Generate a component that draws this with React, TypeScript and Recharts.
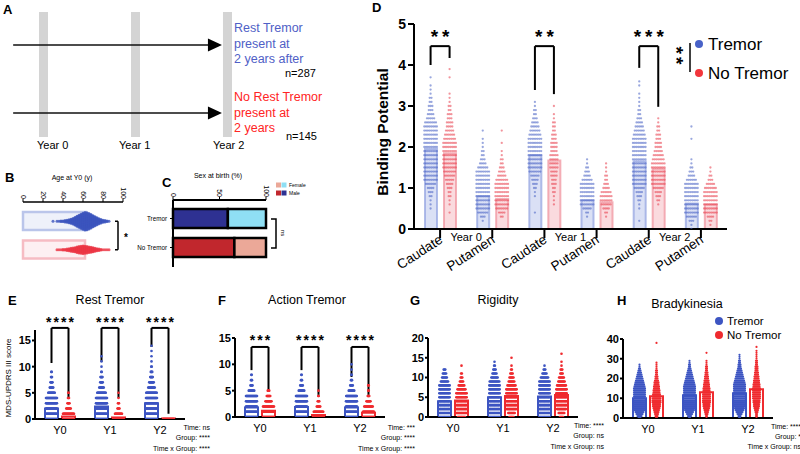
import React from 'react';
import {
  BarChart, Bar, XAxis, YAxis, ScatterChart, Scatter,
  ReferenceLine, ReferenceArea, ReferenceDot, Cell,
} from 'recharts';

const FONT = '"Liberation Sans", Arial, Helvetica, sans-serif';

// ---------------- Panel A (study design) ----------------
const years = [0, 1, 2];
const yearLabels = ['Year 0', 'Year 1', 'Year 2'];
const cohortN = [287, 145];
const cohortText = [
  ['Rest Tremor', 'present at', '2 years after'],
  ['No Rest Tremor', 'present at', '2 years'],
];

// ---------------- Panel B (age at Y0) ----------------
const ageGroups = ['Tremor', 'No Tremor'];
const ageMeans = [63, 62];
const ageBinStart = [30, 34];
const ageBinStep = 2;
const ageCountsTremor = [1, 0, 1, 1, 2, 2, 3, 4, 5, 7, 9, 12, 15, 18, 21, 24, 26, 25, 23, 20, 17, 14, 11, 8, 6, 4, 3, 2, 1];
const ageCountsNoTremor = [1, 1, 1, 2, 2, 3, 4, 5, 6, 7, 9, 10, 11, 12, 11, 10, 9, 8, 7, 5, 4, 3, 2, 1, 1, 1, 1];

// ---------------- Panel C (sex at birth) ----------------
const sexGroups = ['Tremor', 'No Tremor'];
const malePct = [59, 66];
const femalePct = [41, 34];
const maleColors = ['#2e3192', '#c1272d'];
const femaleColors = ['#8fdff4', '#eba898'];

// ---------------- Panel D (binding potential) ----------------
const dRegions = ['Caudate', 'Putamen', 'Caudate', 'Putamen', 'Caudate', 'Putamen'];
const dYears = ['Year 0', 'Year 1', 'Year 2'];
const dTremorMeans = [1.95, 0.8, 1.8, 0.7, 1.65, 0.62];
const dNoTremorMeans = [1.85, 0.73, 1.67, 0.65, 1.47, 0.6];
const dBinStep = 0.1;
const dTremorStart = [0.5, 0.2, 0.4, 0.3, 0.2, 0.0];
const dTremorCounts = [
  [1, 1, 1, 2, 3, 4, 6, 8, 10, 12, 14, 15, 16, 16, 15, 15, 14, 13, 12, 10, 8, 7, 5, 4, 3, 3, 2, 2, 1, 1, 1, 0, 1],
  [1, 3, 6, 10, 15, 20, 24, 26, 24, 20, 15, 11, 8, 6, 4, 3, 2, 2, 1, 1, 1, 0, 1],
  [1, 0, 0, 0, 1, 1, 2, 3, 4, 5, 7, 9, 11, 12, 13, 12, 11, 9, 8, 7, 6, 5, 4, 3, 2, 2, 1, 1],
  [1, 2, 5, 9, 14, 18, 16, 12, 8, 6, 4, 3, 2, 1, 1],
  [1, 0, 0, 1, 1, 2, 3, 4, 6, 8, 10, 13, 15, 16, 16, 15, 14, 12, 10, 9, 8, 7, 6, 5, 4, 3, 2, 2, 1, 1, 1, 1, 0, 1, 1],
  [1, 1, 3, 6, 12, 20, 26, 28, 24, 18, 13, 9, 6, 4, 3, 2, 1, 1, 0, 0, 0, 0, 1, 0, 0, 1],
];
const dNoTremorStart = [0.4, 0.3, 0.6, 0.3, 0.6, 0.1];
const dNoTremorCounts = [
  [1, 0, 1, 1, 2, 2, 3, 4, 5, 6, 7, 8, 9, 9, 10, 9, 9, 8, 7, 6, 5, 4, 4, 3, 3, 2, 2, 1, 1, 1, 0, 0, 0, 1, 0, 1],
  [2, 4, 7, 10, 13, 14, 13, 11, 9, 7, 5, 4, 3, 2, 2, 1, 1, 0, 1, 0, 0, 1],
  [1, 1, 1, 2, 2, 3, 3, 4, 4, 5, 5, 5, 5, 4, 4, 4, 3, 3, 2, 2, 2, 1, 1, 0, 1],
  [1, 2, 4, 6, 7, 7, 6, 4, 3, 2, 2, 1, 1, 1],
  [1, 2, 3, 4, 6, 8, 9, 10, 10, 9, 8, 7, 6, 5, 4, 4, 3, 3, 2, 2, 1, 1],
  [1, 2, 4, 8, 12, 16, 17, 14, 10, 7, 5, 3, 2, 1, 1],
];
const dSig = ['**', '**', '***'];

// ---------------- Panels E-H (MDS-UPDRS III scores, counts per integer score) ----------------
const visits = ['Y0', 'Y1', 'Y2'];

const restMeansT = [2.0, 2.4, 3.0];
const restMeansN = [0.5, 0.3, 0.1];
const restCountsT = [
  [60, 75, 60, 35, 25, 14, 8, 5, 3, 2],
  [50, 65, 60, 40, 28, 18, 10, 6, 5, 2, 1, 1, 1],
  [40, 50, 55, 45, 35, 22, 14, 10, 6, 4, 2, 1, 1, 1, 1],
];
const restCountsN = [
  [100, 25, 10, 5, 3, 2],
  [120, 15, 5, 3, 1, 1],
  [145],
];
const restSig = ['****', '****', '****'];

const actionMeansT = [1.8, 1.9, 1.8];
const actionMeansN = [1.2, 0.4, 0.8];
const actionCountsT = [
  [70, 70, 60, 40, 25, 12, 5, 3, 2],
  [65, 72, 60, 42, 25, 12, 6, 3, 2],
  [72, 70, 60, 38, 22, 12, 6, 3, 2, 1, 1],
];
const actionCountsN = [
  [50, 45, 25, 13, 8, 4],
  [110, 20, 8, 4, 2, 1],
  [75, 35, 18, 9, 4, 2, 2],
];
const actionSig = ['***', '****', '****'];

const rigMeansT = [4.0, 5.0, 5.2];
const rigMeansN = [4.2, 5.3, 5.6];
const rigCountsT = [
  [20, 25, 35, 40, 40, 35, 30, 22, 15, 10, 7, 5, 3],
  [15, 20, 28, 35, 38, 38, 32, 26, 20, 13, 9, 6, 4, 2, 1],
  [14, 18, 26, 34, 38, 40, 35, 28, 20, 14, 10, 6, 3, 1],
];
const rigCountsN = [
  [10, 14, 18, 20, 20, 18, 15, 11, 8, 5, 3, 2, 0, 1],
  [6, 9, 13, 16, 18, 19, 17, 14, 11, 8, 6, 4, 2, 1, 0, 1],
  [5, 8, 12, 15, 17, 18, 17, 15, 12, 9, 7, 4, 3, 1, 1, 0, 1],
];

const bradMeansT = [10, 11.5, 12.5];
const bradMeansN = [11, 13, 14.5];
const bradCountsT = [
  [3, 5, 7, 9, 11, 13, 14, 15, 16, 16, 16, 15, 15, 14, 13, 12, 11, 10, 9, 8, 7, 6, 5, 4, 3, 2, 1, 1],
  [2, 4, 6, 8, 10, 12, 13, 14, 15, 15, 16, 16, 15, 15, 14, 13, 12, 11, 10, 9, 8, 7, 6, 5, 4, 3, 2, 2, 1, 1],
  [2, 3, 5, 7, 9, 10, 12, 13, 14, 14, 15, 15, 15, 15, 14, 14, 13, 12, 11, 10, 9, 8, 7, 6, 5, 4, 3, 3, 2, 2, 1, 1, 1],
];
const bradCountsN = [
  [2, 3, 4, 5, 6, 7, 8, 8, 9, 9, 9, 8, 8, 7, 7, 6, 6, 5, 5, 4, 3, 3, 2, 2, 2, 1, 1, 1, 1, 0, 0, 0, 0, 0, 0, 0, 0, 0, 1],
  [1, 2, 3, 4, 5, 6, 7, 7, 8, 8, 8, 8, 8, 8, 7, 7, 6, 6, 5, 5, 4, 4, 3, 3, 2, 2, 2, 1, 1, 1, 0, 0, 0, 1],
  [1, 2, 2, 3, 4, 5, 6, 6, 7, 7, 8, 8, 8, 8, 8, 8, 7, 7, 6, 6, 5, 5, 4, 4, 3, 3, 3, 2, 2, 2, 1, 1, 1, 1, 1, 0, 1],
];

// ---------------- helpers ----------------
type Row = [number, number];
const binRows = (start: number, step: number, counts: number[]): Row[] =>
  counts.map((c, i) => [Math.round((start + i * step) * 1000) / 1000, c]);
const intRows = (counts: number[]): Row[] => counts.map((c, i) => [i, c]);

function swarm(rows: Row[], center: number, upx: number, spacing: number, maxHalf: number) {
  const out: { x: number; y: number }[] = [];
  const maxPer = Math.floor((2 * maxHalf) / spacing) + 1;
  for (const [v, n] of rows) {
    const m = Math.min(n, maxPer);
    for (let k = 0; k < m; k++) {
      out.push({ x: center + (k - (m - 1) / 2) * spacing * upx, y: v });
    }
  }
  return out;
}

const dotShape = (fill: string, r: number) => (props: any) =>
  <circle cx={props.cx} cy={props.cy} r={r} fill={fill} />;

const starShape = (text: string, fs: number, ls: number) => (props: any) => (
  <text x={props.cx + ls / 2} y={props.cy + 0.52 * fs} textAnchor="middle" fontSize={fs}
    fontWeight={700} letterSpacing={ls} fill="#000">{text}</text>
);

const AX = { stroke: '#000', strokeWidth: 2 };

interface Bracket { cat: number; l: number; r: number; top: number; star: number; text: string }

interface PanelProps {
  box: [number, number, number, number];
  plot: [number, number, number, number];
  nCat: number;
  meansT: number[]; meansN: number[];
  rowsT: Row[][]; rowsN: Row[][];
  yDomain: [number, number]; yTicks: number[];
  yTickFont: number; yTickSize: number; yTickMargin: number;
  barSize: number; barGap: number;
  barT: { fill: string; stroke: string }; barN: { fill: string; stroke: string };
  barStrokeW: number;
  dotT: string; dotN: string; dotR: number; spacing: number; maxHalf: number;
  xTick: (p: any) => any; xTickSize: number; xTickLine: boolean;
  brackets?: Bracket[]; starFont?: number; starLS?: number;
}

function indices(n: number) {
  const a: number[] = [];
  for (let i = 0; i < n; i++) a.push(i);
  return a;
}

function SwarmPanel(p: PanelProps) {
  const [L, T, W, H] = p.box;
  const [pl, pr, pt, pb] = p.plot;
  const yAxisW = pl - L;
  const xAxisH = T + H - pb;
  const upx = p.nCat / (pr - pl);
  const off = ((p.barSize + p.barGap) / 2) * upx;
  const data = indices(p.nCat).map((i) => ({ idx: i, t: p.meansT[i], n: p.meansN[i] }));
  const ptsT = p.rowsT.flatMap((rows, i) => swarm(rows, i + 0.5 - off, upx, p.spacing, p.maxHalf));
  const ptsN = p.rowsN.flatMap((rows, i) => swarm(rows, i + 0.5 + off, upx, p.spacing, p.maxHalf));
  const margin2 = { top: pt - T, right: L + W - pr, left: pl - L, bottom: T + H - pb };
  return (
    <div style={{ position: 'absolute', left: L, top: T, width: W, height: H }}>
      <div style={{ position: 'absolute', left: 0, top: 0 }}>
        <BarChart width={W} height={H} data={data} barGap={p.barGap}
          margin={{ top: pt - T, right: L + W - pr, left: 0, bottom: 0 }}>
          <XAxis dataKey="idx" type="category" height={xAxisH} tick={p.xTick} tickSize={p.xTickSize}
            tickMargin={0} tickLine={p.xTickLine ? AX : false} axisLine={AX} interval={0} />
          <YAxis type="number" domain={p.yDomain} ticks={p.yTicks} width={yAxisW} interval={0}
            tick={{ fontSize: p.yTickFont, fontWeight: 700, fill: '#000' }} tickSize={p.yTickSize}
            tickMargin={p.yTickMargin} tickLine={AX} axisLine={AX} allowDataOverflow />
          <Bar dataKey="t" barSize={p.barSize} fill={p.barT.fill} stroke={p.barT.stroke}
            strokeWidth={p.barStrokeW} isAnimationActive={false} />
          <Bar dataKey="n" barSize={p.barSize} fill={p.barN.fill} stroke={p.barN.stroke}
            strokeWidth={p.barStrokeW} isAnimationActive={false} />
        </BarChart>
      </div>
      <div style={{ position: 'absolute', left: 0, top: 0 }}>
        <ScatterChart width={W} height={H} margin={margin2}>
          <XAxis type="number" dataKey="x" domain={[0, p.nCat]} hide allowDataOverflow />
          <YAxis type="number" dataKey="y" domain={p.yDomain} hide allowDataOverflow />
          <Scatter data={ptsT} shape={dotShape(p.dotT, p.dotR)} isAnimationActive={false} />
          <Scatter data={ptsN} shape={dotShape(p.dotN, p.dotR)} isAnimationActive={false} />
          {(p.brackets || []).flatMap((b, k) => {
            const lx = b.cat + 0.5 - off;
            const rx = b.cat + 0.5 + off;
            return [
              <ReferenceLine key={`a${k}`} ifOverflow="visible" stroke="#000" strokeWidth={2}
                segment={[{ x: lx, y: b.l }, { x: lx, y: b.top }]} />,
              <ReferenceLine key={`b${k}`} ifOverflow="visible" stroke="#000" strokeWidth={2}
                segment={[{ x: lx, y: b.top }, { x: rx, y: b.top }]} />,
              <ReferenceLine key={`c${k}`} ifOverflow="visible" stroke="#000" strokeWidth={2}
                segment={[{ x: rx, y: b.top }, { x: rx, y: b.r }]} />,
              <ReferenceDot key={`d${k}`} ifOverflow="visible" x={b.cat + 0.5} y={b.star}
                shape={starShape(b.text, p.starFont || 14, p.starLS || 1)} />,
            ];
          })}
        </ScatterChart>
      </div>
    </div>
  );
}

// ---------------- Panel A ----------------
const ArrowHead = (props: any) => {
  const { cx, cy } = props;
  return <polygon points={`${cx},${cy} ${cx - 14},${cy - 6.5} ${cx - 14},${cy + 6.5}`} fill="#000" />;
};

function PanelA() {
  const heads = cohortN.map((n, i) => ({ x: 1.94, y: i, n }));
  return (
    <div style={{ position: 'absolute', left: 0, top: 0 }}>
      <ScatterChart width={380} height={150} margin={{ top: 0, right: 0, left: 0, bottom: 0 }}>
        <XAxis type="number" dataKey="x" domain={[-0.473, 3.658]} hide allowDataOverflow />
        <YAxis type="number" dataKey="y" domain={[-0.662, 1.544]} hide reversed allowDataOverflow />
        {years.map((y) => (
          <ReferenceArea key={y} x1={y - 0.049} x2={y + 0.049} y1={-0.485} y2={1.353}
            fill="#d4d4d4" fillOpacity={1} stroke="none" ifOverflow="visible" />
        ))}
        {cohortN.map((n, i) => (
          <ReferenceLine key={n} segment={[{ x: -0.33, y: i }, { x: 1.85, y: i }]} stroke="#111"
            strokeWidth={1.6} ifOverflow="visible" />
        ))}
        <Scatter data={heads} shape={ArrowHead} isAnimationActive={false} />
      </ScatterChart>
    </div>
  );
}

// ---------------- Panel B ----------------
const BTick = (props: any) => {
  const { x, y, payload } = props;
  return (
    <text x={x} y={y} transform={`rotate(90 ${x} ${y})`} textAnchor="end" dominantBaseline="central"
      fontSize={7} fill="#000">{payload.value}</text>
  );
};

function PanelB() {
  const W = 140, H = 112;
  const data = ageGroups.map((g, i) => ({ g, mean: ageMeans[i] }));
  const upy = 2 / (66 - 9);
  const spacing = 0.7, maxHalf = 9;
  const maxPer = Math.floor((2 * maxHalf) / spacing) + 1;
  const counts = [ageCountsTremor, ageCountsNoTremor];
  const pts = counts.map((cs, gi) => {
    const out: { x: number; y: number }[] = [];
    cs.forEach((c, k) => {
      const age = ageBinStart[gi] + k * ageBinStep;
      const m = Math.min(c, maxPer);
      for (let j = 0; j < m; j++) out.push({ x: age, y: gi + 0.5 + (j - (m - 1) / 2) * spacing * upy });
    });
    return out;
  });
  const barFill = ['#eef1fa', '#fdf0f2'];
  const barStroke = ['#bac5ea', '#f6bcc3'];
  return (
    <div style={{ position: 'absolute', left: 0, top: 160, width: W, height: H }}>
      <div style={{ position: 'absolute', left: 0, top: 0 }}>
        <BarChart layout="vertical" width={W} height={H} data={data}
          margin={{ top: 10, right: 17, left: 23, bottom: 4 }}>
          <XAxis type="number" orientation="top" domain={[0, 100]} ticks={[0, 20, 40, 60, 80, 100]}
            height={32} tick={BTick} tickSize={3} tickMargin={0} interval={0}
            axisLine={{ stroke: '#000', strokeWidth: 1.5 }} tickLine={{ stroke: '#000', strokeWidth: 1 }} />
          <YAxis type="category" dataKey="g" width={0} tick={false} tickLine={false}
            axisLine={{ stroke: '#000', strokeWidth: 2 }} padding={{ top: 5, bottom: 4 }} />
          <Bar dataKey="mean" barSize={18} strokeWidth={2.5} isAnimationActive={false}>
            {data.map((d, i) => <Cell key={d.g} fill={barFill[i]} stroke={barStroke[i]} />)}
          </Bar>
        </BarChart>
      </div>
      <div style={{ position: 'absolute', left: 0, top: 0 }}>
        <ScatterChart width={W} height={H} margin={{ top: 42, right: 17, left: 23, bottom: 4 }}>
          <XAxis type="number" dataKey="x" domain={[0, 100]} hide allowDataOverflow />
          <YAxis type="number" dataKey="y" domain={[0, 2]} hide reversed allowDataOverflow
            padding={{ top: 5, bottom: 4 }} />
          <Scatter data={pts[0]} shape={dotShape('rgba(60,85,190,0.8)', 1.5)} isAnimationActive={false} />
          <Scatter data={pts[1]} shape={dotShape('rgba(236,55,70,0.8)', 1.5)} isAnimationActive={false} />
          <ReferenceLine ifOverflow="visible" stroke="#000" strokeWidth={1.5}
            segment={[{ x: 95, y: 0.5 }, { x: 95, y: 1.5 }]} />
          <ReferenceLine ifOverflow="visible" stroke="#000" strokeWidth={1.5}
            segment={[{ x: 92, y: 0.5 }, { x: 95, y: 0.5 }]} />
          <ReferenceLine ifOverflow="visible" stroke="#000" strokeWidth={1.5}
            segment={[{ x: 92, y: 1.5 }, { x: 95, y: 1.5 }]} />
          <ReferenceDot ifOverflow="visible" x={103} y={1.0} shape={starShape('*', 10, 0)} />
        </ScatterChart>
      </div>
    </div>
  );
}

// ---------------- Panel C ----------------
const CTick = (props: any) => {
  const { x, y, payload } = props;
  return (
    <text x={x} y={y} transform={`rotate(90 ${x} ${y})`} textAnchor="end" dominantBaseline="central"
      fontSize={7} fill="#000">{payload.value}</text>
  );
};
const CYTick = (props: any) => (
  <text x={props.x} y={props.y} textAnchor="end" dominantBaseline="central" fontSize={6.3}
    fill="#000">{props.payload.value}</text>
);

function PanelC() {
  const data = sexGroups.map((g, i) => ({ g, male: malePct[i], female: femalePct[i] }));
  return (
    <div style={{ position: 'absolute', left: 125, top: 163 }}>
      <BarChart layout="vertical" width={160} height={106} data={data}
        margin={{ top: 7, right: 19, left: 0, bottom: 2 }}>
        <XAxis type="number" orientation="top" domain={[0, 100]} ticks={[0, 50, 100]} height={30}
          tick={CTick} tickSize={3} tickMargin={0} interval={0}
          axisLine={{ stroke: '#000', strokeWidth: 2 }} tickLine={{ stroke: '#000', strokeWidth: 1 }} />
        <YAxis type="category" dataKey="g" width={48} tickSize={3} tickMargin={3} interval={0}
          tick={CYTick} axisLine={{ stroke: '#000', strokeWidth: 2 }}
          tickLine={{ stroke: '#000', strokeWidth: 1 }} padding={{ top: 4, bottom: 5 }} />
        <Bar dataKey="male" stackId="s" barSize={19} stroke="#000" strokeWidth={2.5} isAnimationActive={false}>
          {data.map((d, i) => <Cell key={d.g} fill={maleColors[i]} />)}
        </Bar>
        <Bar dataKey="female" stackId="s" barSize={19} stroke="#000" strokeWidth={2.5} isAnimationActive={false}>
          {data.map((d, i) => <Cell key={d.g} fill={femaleColors[i]} />)}
        </Bar>
      </BarChart>
    </div>
  );
}

// ---------------- Panel D ----------------
const dTick = (props: any) => {
  const { x, y, payload } = props;
  const i = Number(payload.value);
  return (
    <g>
      <text x={x + 3.5} y={y + 4} transform={`rotate(-33 ${x + 3.5} ${y + 4})`} textAnchor="end"
        fontSize={13.5} fill="#000">{dRegions[i]}</text>
      {i % 2 === 0 ? (
        <text x={x + 26} y={y - 1.5} textAnchor="middle" dominantBaseline="central" fontSize={11}
          fill="#000">{dYears[i / 2]}</text>
      ) : null}
    </g>
  );
};

const visitTick = (props: any) => (
  <text x={props.x} y={props.y + 11} textAnchor="middle" dominantBaseline="central" fontSize={11}
    fill="#000">{visits[Number(props.payload.value)]}</text>
);

const BLUE = '#3d55c2';
const RED = '#ef2b2f';

export default function App() {
  const dRowsT = dTremorCounts.map((c, i) => binRows(dTremorStart[i], dBinStep, c));
  const dRowsN = dNoTremorCounts.map((c, i) => binRows(dNoTremorStart[i], dBinStep, c));
  const dBr: Bracket[] = [
    { cat: 0, l: 4.0, r: 4.17, top: 4.46, star: 4.78, text: dSig[0] },
    { cat: 2, l: 3.39, r: 3.29, top: 4.46, star: 4.78, text: dSig[1] },
    { cat: 4, l: 3.93, r: 2.98, top: 4.46, star: 4.78, text: dSig[2] },
  ];
  const eBr: Bracket[] = [
    { cat: 0, l: 10.7, r: 4.2, top: 17.4, star: 18.9, text: restSig[0] },
    { cat: 1, l: 10.9, r: 4.0, top: 17.4, star: 18.9, text: restSig[1] },
    { cat: 2, l: 13.75, r: 1.0, top: 17.4, star: 18.9, text: restSig[2] },
  ];
  const fBr: Bracket[] = [
    { cat: 0, l: 8.9, r: 5.1, top: 13.3, star: 15.0, text: actionSig[0] },
    { cat: 1, l: 8.9, r: 4.2, top: 13.3, star: 15.0, text: actionSig[1] },
    { cat: 2, l: 7.6, r: 4.2, top: 13.3, star: 15.0, text: actionSig[2] },
  ];
  const ehCommon = {
    nCat: 3, yTickFont: 11, yTickSize: 3, yTickMargin: 1, barSize: 13, barGap: 4,
    barT: { fill: '#ffffff', stroke: BLUE }, barN: { fill: '#ffffff', stroke: RED }, barStrokeW: 2,
    dotT: BLUE, dotN: RED, xTick: visitTick, xTickSize: 0, xTickLine: false, maxHalf: 5.5,
    starFont: 14, starLS: 2,
  };
  const tx = (x: number, y: number, s: number, text: string, o: any = {}) => (
    <text x={x} y={y} fontSize={s} fill={o.c || '#000'} textAnchor={o.a || 'start'}
      fontWeight={o.w || 400} dominantBaseline="central"
      transform={o.r ? `rotate(${o.r} ${x} ${y})` : undefined}>{text}</text>
  );
  return (
    <div style={{ position: 'absolute', left: 0, top: 0, width: 800, height: 454, background: '#fff',
      overflow: 'hidden', fontFamily: FONT }}>
      <PanelA />
      <PanelB />
      <PanelC />
      <SwarmPanel
        box={[340, 0, 460, 290]} plot={[414, 727, 24, 229]} nCat={6}
        meansT={dTremorMeans} meansN={dNoTremorMeans} rowsT={dRowsT} rowsN={dRowsN}
        yDomain={[0, 5]} yTicks={[0, 1, 2, 3, 4, 5]} yTickFont={14} yTickSize={6} yTickMargin={2}
        barSize={12} barGap={7}
        barT={{ fill: 'rgba(150,165,225,0.35)', stroke: 'rgba(150,165,225,0.75)' }}
        barN={{ fill: 'rgba(240,150,160,0.35)', stroke: 'rgba(240,150,160,0.75)' }}
        barStrokeW={2}
        dotT="rgba(70,95,195,0.55)" dotN="rgba(232,60,75,0.55)" dotR={1.15} spacing={1.8} maxHalf={6.5}
        xTick={dTick} xTickSize={9} xTickLine={true}
        brackets={dBr} starFont={19} starLS={4}
      />
      <SwarmPanel {...ehCommon}
        box={[0, 305, 205, 149]} plot={[35, 185, 330, 419]}
        meansT={restMeansT} meansN={restMeansN}
        rowsT={restCountsT.map(intRows)} rowsN={restCountsN.map(intRows)}
        yDomain={[0, 17]} yTicks={[0, 5, 10, 15]} dotR={1.3} spacing={0.5} brackets={eBr} />
      <SwarmPanel {...ehCommon}
        box={[200, 305, 200, 149]} plot={[235, 385, 338, 417]}
        meansT={actionMeansT} meansN={actionMeansN}
        rowsT={actionCountsT.map(intRows)} rowsN={actionCountsN.map(intRows)}
        yDomain={[0, 15]} yTicks={[0, 5, 10, 15]} dotR={1.3} spacing={0.5} brackets={fBr} />
      <SwarmPanel {...ehCommon}
        box={[395, 305, 200, 149]} plot={[428, 578, 338, 417]}
        meansT={rigMeansT} meansN={rigMeansN}
        rowsT={rigCountsT.map(intRows)} rowsN={rigCountsN.map(intRows)}
        yDomain={[0, 20]} yTicks={[0, 5, 10, 15, 20]} dotR={1.3} spacing={0.8} />
      <SwarmPanel {...ehCommon}
        box={[590, 305, 210, 149]} plot={[623, 773, 339, 418]}
        meansT={bradMeansT} meansN={bradMeansN}
        rowsT={bradCountsT.map(intRows)} rowsN={bradCountsN.map(intRows)}
        yDomain={[0, 40]} yTicks={[0, 10, 20, 30, 40]} dotR={1.1} spacing={1.0} />

      <svg width={800} height={454} style={{ position: 'absolute', left: 0, top: 0, pointerEvents: 'none' }}
        fontFamily={FONT}>
        {tx(3, 9, 13, 'A', { w: 700 })}
        {tx(5, 177, 13, 'B', { w: 700 })}
        {tx(162, 182, 13, 'C', { w: 700 })}
        {tx(372, 7, 13, 'D', { w: 700 })}
        {tx(8, 300, 13, 'E', { w: 700 })}
        {tx(218, 300, 13, 'F', { w: 700 })}
        {tx(410, 300, 13, 'G', { w: 700 })}
        {tx(617, 300, 13, 'H', { w: 700 })}

        {cohortText[0].map((s, i) => tx(234, 28 + i * 15.5, 12.5, s, { c: '#4f60c6' }))}
        {tx(285, 73, 11, `n=${cohortN[0]}`)}
        {cohortText[1].map((s, i) => tx(234, 97 + i * 15.5, 12.5, s, { c: '#ff2424' }))}
        {tx(286, 136, 11, `n=${cohortN[1]}`)}
        {yearLabels.map((s, i) => tx([37, 119, 213][i], 145, 11, s))}

        {tx(72, 177, 7, 'Age at Y0 (y)', { a: 'middle' })}

        {tx(218, 175, 7, 'Sex at birth (%)', { a: 'middle' })}
        <rect x={276} y={182.5} width={5} height={5} fill={femaleColors[1]} />
        <rect x={281.5} y={182.5} width={5} height={5} fill={femaleColors[0]} />
        <rect x={276} y={190.5} width={5} height={5} fill={maleColors[1]} />
        <rect x={281.5} y={190.5} width={5} height={5} fill={maleColors[0]} />
        {tx(289, 185, 5, 'Female')}
        {tx(289, 193, 5, 'Male')}
        <path d="M271,219 H276 V248 H271" fill="none" stroke="#000" strokeWidth={1.5} />
        {tx(283, 233, 6, 'ns', { a: 'middle', r: 90 })}

        {tx(382, 132, 15.5, 'Binding Potential', { a: 'middle', w: 700, r: -90 })}
        <line x1={690} y1={43} x2={690} y2={72} stroke="#000" strokeWidth={1.5} />
        <text x={680} y={57} fontSize={19} fontWeight={700} textAnchor="middle" letterSpacing={3}
          transform="rotate(90 680 57)" dy={10}>**</text>
        <circle cx={699} cy={44} r={4} fill="#4862c8" />
        <circle cx={699} cy={73} r={4} fill="#f2363c" />
        {tx(708, 44, 17, 'Tremor')}
        {tx(708, 73, 17, 'No Tremor')}

        {tx(8, 378, 8, 'MDS-UPDRS III score', { a: 'middle', r: -90 })}
        {tx(110, 300, 12.5, 'Rest Tremor', { a: 'middle' })}
        {tx(307, 300, 12.5, 'Action Tremor', { a: 'middle' })}
        {tx(498, 300, 12.5, 'Rigidity', { a: 'middle' })}
        {tx(687, 304, 12.5, 'Bradykinesia', { a: 'middle' })}

        {tx(210, 427, 7, 'Time: ns', { a: 'end' })}
        {tx(210, 437, 7, 'Group: ****', { a: 'end' })}
        {tx(210, 448, 7, 'Time x Group: ****', { a: 'end' })}
        {tx(415, 427, 7, 'Time: ***', { a: 'end' })}
        {tx(415, 437, 7, 'Group: ****', { a: 'end' })}
        {tx(415, 448, 7, 'Time x Group: ****', { a: 'end' })}
        {tx(604, 425, 7, 'Time: ****', { a: 'end' })}
        {tx(604, 435, 7, 'Group: ns', { a: 'end' })}
        {tx(604, 446, 7, 'Time x Group: ns', { a: 'end' })}
        {tx(801, 426, 7, 'Time: ****', { a: 'end' })}
        {tx(801, 436, 7, 'Group: *', { a: 'end' })}
        {tx(801, 446, 7, 'Time x Group: ns', { a: 'end' })}

        <circle cx={719} cy={321} r={4} fill={BLUE} />
        <circle cx={719} cy={335} r={4} fill={RED} />
        {tx(727, 321, 11.5, 'Tremor')}
        {tx(727, 335, 11.5, 'No Tremor')}
      </svg>
    </div>
  );
}
